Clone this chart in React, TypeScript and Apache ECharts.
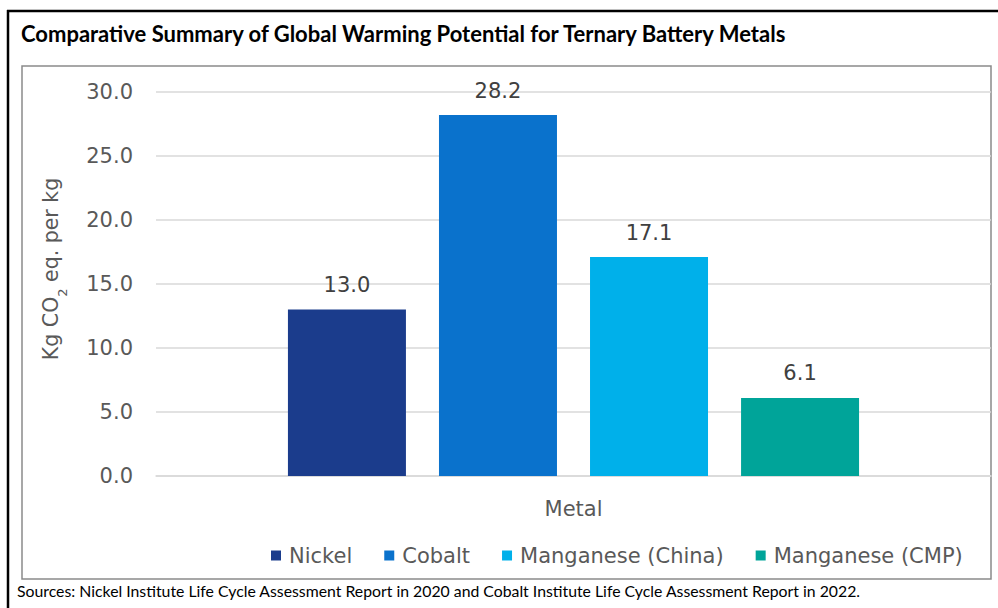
import React, { useEffect, useRef } from "react";
import * as echarts from "echarts";

const categories = ["Metal"];
const seriesNames = ["Nickel", "Cobalt", "Manganese (China)", "Manganese (CMP)"];
const seriesValues = [13.0, 28.2, 17.1, 6.1];
const seriesColors = ["#1B3C8C", "#0A72CC", "#00B0EA", "#00A499"];
const yTicks = { min: 0, max: 30, interval: 5 };
const titleText = "Comparative Summary of Global Warming Potential for Ternary Battery Metals";
const sourceText =
  "Sources: Nickel Institute Life Cycle Assessment Report in 2020 and Cobalt Institute Life Cycle Assessment Report in 2022.";

const AXIS_FONT = "'DejaVu Sans', sans-serif";
const CAL_FONT = "Lato, 'Open Sans', sans-serif";

export default function App() {
  const ref = useRef<HTMLDivElement>(null);
  useEffect(() => {
    if (!ref.current) return;
    const chart = echarts.init(ref.current, null, { renderer: "svg" });
    const series = seriesNames.map((name, i) => ({
      name,
      type: "bar",
      data: [seriesValues[i]],
      barWidth: 118,
      barGap: "28%",
      itemStyle: { color: seriesColors[i] },
      label: {
        show: true,
        position: "top",
        distance: 14,
        formatter: (p: any) => Number(p.value).toFixed(1),
        fontFamily: AXIS_FONT,
        fontSize: 21,
        color: "#404040",
      },
    }));
    chart.setOption({
      animation: false,
      backgroundColor: "#ffffff",
      title: {
        text: titleText,
        left: 16,
        top: 17,
        textStyle: {
          fontFamily: CAL_FONT,
          fontWeight: "bold",
          fontSize: 22,
          color: "#000000",
        },
      },
      grid: { left: 156, right: 7, top: 92, bottom: 132 },
      legend: {
        data: seriesNames,
        left: 266,
        top: 540,
        icon: "rect",
        itemWidth: 10,
        itemHeight: 10,
        itemGap: 32,
        textStyle: {
          fontFamily: AXIS_FONT,
          fontSize: 21,
          color: "#595959",
          padding: [0, 0, 0, 3],
        },
      },
      xAxis: {
        type: "category",
        data: categories,
        axisLine: { show: true, lineStyle: { color: "#d9d9d9", width: 1.5 } },
        axisTick: { show: false },
        axisLabel: {
          margin: 22,
          fontFamily: AXIS_FONT,
          fontSize: 21,
          color: "#595959",
        },
      },
      yAxis: {
        type: "value",
        min: yTicks.min,
        max: yTicks.max,
        interval: yTicks.interval,
        name: "{a|Kg CO}{s|2}{a| eq. per kg}",
        nameLocation: "middle",
        nameGap: 93,
        nameTextStyle: {
          padding: [0, 0, 0, 30],
          rich: {
            a: { fontFamily: AXIS_FONT, fontSize: 20.5, color: "#595959", lineHeight: 24 },
            s: {
              fontFamily: AXIS_FONT,
              fontSize: 13,
              color: "#595959",
              lineHeight: 24,
              verticalAlign: "bottom",
              padding: [0, 0, -6, 0],
            },
          },
        },
        axisLine: { show: false },
        axisTick: { show: false },
        splitLine: { lineStyle: { color: "#d9d9d9", width: 1.5 } },
        axisLabel: {
          margin: 23,
          fontFamily: AXIS_FONT,
          fontSize: 21,
          color: "#595959",
          formatter: (v: number) => v.toFixed(1),
        },
      },
      series,
      graphic: [
        {
          type: "rect",
          shape: { x: 22, y: 66, width: 969, height: 513 },
          style: { fill: "none", stroke: "#8a8a8a", lineWidth: 1.5 },
          silent: true,
          z: -1,
        },
        {
          type: "line",
          shape: { x1: 7, y1: 11, x2: 998, y2: 11 },
          style: { stroke: "#000000", lineWidth: 2.5 },
          silent: true,
        },
        {
          type: "line",
          shape: { x1: 8, y1: 10, x2: 8, y2: 608 },
          style: { stroke: "#000000", lineWidth: 2.5 },
          silent: true,
        },
        {
          type: "text",
          left: 17,
          top: 582,
          style: {
            text: sourceText,
            fontFamily: CAL_FONT,
            fontSize: 15.8,
            fill: "#000000",
          },
          silent: true,
        },
      ],
    });
    return () => chart.dispose();
  }, []);
  return (
    <div
      ref={ref}
      style={{ position: "fixed", left: 0, top: 0, width: 998, height: 608 }}
    />
  );
}
